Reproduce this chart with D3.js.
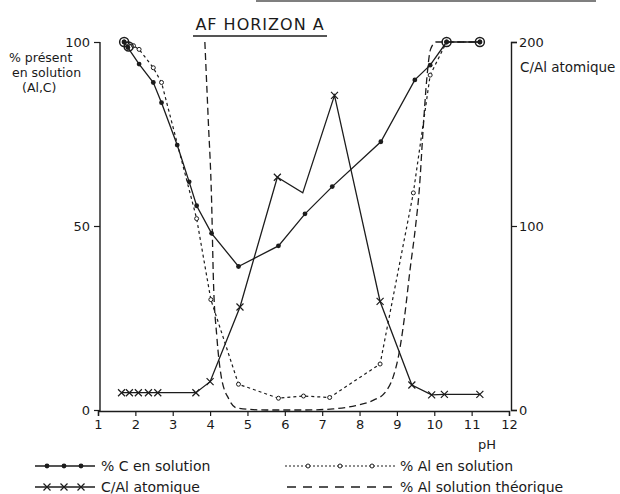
<!DOCTYPE html>
<html><head><meta charset="utf-8">
<script src="https://cdn.jsdelivr.net/npm/d3@7"></script>
<style>
body{margin:0;background:#fff;}
text{font-family:"DejaVu Sans",sans-serif;fill:#1a1a1a;}
</style></head>
<body>
<svg id="c" width="620" height="494"></svg>
<script>
// ---- data ----
const xTicks = [1,2,3,4,5,6,7,8,9,10,11,12];
const yLeftTicks = [0,50,100];
const yRightTicks = [0,100,200];

const pH_C = [1.7,1.8,2.1,2.48,2.7,3.12,3.44,3.64,4.04,4.76,5.83,6.54,7.27,8.57,9.48,9.89,10.33,11.22];
const pctC = [100,98.5,94,89,83.5,72,62,55.5,48,39,44.6,53.3,60.7,72.9,89.7,93.7,100,100];

const pH_Al = [1.7,1.8,1.95,2.1,2.48,2.7,3.64,4.02,4.76,5.83,6.5,7.2,8.55,9.44,9.89,10.33,11.22];
const pctAl = [100,99.5,99,98,93,89,52,30,7,3.2,3.8,3.4,12.5,59,91,100,100];

const pH_ratio = [1.63,1.84,2.08,2.35,2.6,3.62,4.0,4.8,5.8,6.48,7.33,8.55,9.4,9.93,10.27,11.22];
const ratioCAl = [9.4,9.4,9.4,9.4,9.4,9.4,15.4,56,126.5,118,171,59,13.6,8.2,8.5,8.5];
const ratioMarked = [1,1,1,1,1,1,1,1,1,0,1,1,1,1,1,1];

const pH_theo = [3.86,3.95,4.04,4.09,4.18,4.3,4.5,4.72,5.5,6.5,7.3,7.9,8.4,8.68,8.9,9.04,9.2,9.35,9.5,9.6,9.7,9.8,9.9,10.05,10.33,11.22];
const pctTheo = [100,79,57,35,20,9,3,0.5,0,0,0.3,1.2,2.8,4.7,9,14.5,25,38,50,60,76,90,98,100,100,100];

const bigCircles = [[1.7,100],[1.82,98.8],[10.33,100],[11.22,100]];

// ---- scales ----
const svg = d3.select("#c");
const x = d3.scaleLinear().domain([1,12]).range([98,509]);
const yL = d3.scaleLinear().domain([0,100]).range([410,42]);
const yR = d3.scaleLinear().domain([0,200]).range([410,42]);
const ink = "#1c1c1c";

// ---- axes ----
const gx = svg.append("g").attr("transform","translate(0,411)")
  .call(d3.axisBottom(x).tickValues(xTicks).tickSize(5).tickPadding(4).tickFormat(d3.format("d")));
const gl = svg.append("g").attr("transform","translate(100,0)")
  .call(d3.axisLeft(yL).tickValues(yLeftTicks).tickSize(6).tickPadding(4));
const gr = svg.append("g").attr("transform","translate(511,0)")
  .call(d3.axisRight(yR).tickValues(yRightTicks).tickSize(6).tickPadding(2));
[gx,gl,gr].forEach(g=>{
  g.select(".domain").attr("stroke",ink).attr("stroke-width",1.4);
  g.selectAll(".tick line").attr("stroke",ink).attr("stroke-width",1.2);
  g.selectAll(".tick text").attr("font-size",13).attr("fill",ink).attr("font-family","DejaVu Sans");
});
gl.select(".domain").attr("d","M100,42V411").attr("transform","translate(-100,0)");

// ---- lines ----
const line = (xs, ys, sy) => d3.line().x((d,i)=>x(xs[i])).y((d,i)=>sy(ys[i]));

svg.append("path").attr("d", d3.line().curve(d3.curveMonotoneX).x((d,i)=>x(pH_theo[i])).y((d,i)=>yL(pctTheo[i]))(pctTheo))
  .attr("fill","none").attr("stroke",ink).attr("stroke-width",1.3).attr("stroke-dasharray","7,4");

svg.append("path").attr("d", line(pH_Al,pctAl,yL)(pctAl))
  .attr("fill","none").attr("stroke",ink).attr("stroke-width",1.2).attr("stroke-dasharray","3,3");

svg.append("path").attr("d", line(pH_C,pctC,yL)(pctC))
  .attr("fill","none").attr("stroke",ink).attr("stroke-width",1.3);

svg.append("path").attr("d", line(pH_ratio,ratioCAl,yR)(ratioCAl))
  .attr("fill","none").attr("stroke",ink).attr("stroke-width",1.3);

// markers
svg.append("g").selectAll("circle").data(pctAl).join("circle")
  .attr("cx",(d,i)=>x(pH_Al[i])).attr("cy",d=>yL(d)).attr("r",2)
  .attr("fill","#fff").attr("stroke",ink).attr("stroke-width",1);
svg.append("g").selectAll("circle").data(pctC).join("circle")
  .attr("cx",(d,i)=>x(pH_C[i])).attr("cy",d=>yL(d)).attr("r",2.4).attr("fill",ink);
const markedIdx = ratioCAl.map((v,j)=>j).filter(j=>ratioMarked[j]);
svg.append("g").selectAll("path").data(markedIdx).join("path")
  .attr("d",j=>{
    const cx = x(pH_ratio[j]), cy = yR(ratioCAl[j]), s=3.5;
    return `M${cx-s},${cy-s}L${cx+s},${cy+s}M${cx-s},${cy+s}L${cx+s},${cy-s}`;
  }).attr("stroke",ink).attr("stroke-width",1.2);
svg.append("g").selectAll("circle").data(bigCircles).join("circle")
  .attr("cx",d=>x(d[0])).attr("cy",d=>yL(d[1])).attr("r",4.5)
  .attr("fill","none").attr("stroke",ink).attr("stroke-width",1.5);

// ---- titles / labels ----
svg.append("line").attr("x1",256).attr("x2",596).attr("y1",1).attr("y2",1).attr("stroke","#555").attr("stroke-width",1.5);
svg.append("text").attr("x",260).attr("y",30).attr("text-anchor","middle").attr("font-size",16).attr("letter-spacing",1).text("AF HORIZON A");
svg.append("line").attr("x1",193).attr("x2",327).attr("y1",36).attr("y2",36).attr("stroke",ink).attr("stroke-width",1.5);

const lt = svg.append("g").attr("font-size",12.5);
lt.append("text").attr("x",9).attr("y",62).text("% présent");
lt.append("text").attr("x",12).attr("y",77).text("en solution");
lt.append("text").attr("x",22).attr("y",92).text("(Al,C)");
lt.append("text").attr("x",520).attr("y",72).attr("font-size",13.5).text("C/Al atomique");
lt.append("text").attr("x",478).attr("y",449).attr("font-size",13).text("pH");

// ---- legend ----
const lg = svg.append("g");
const L1 = 466, L2 = 487;
lg.append("line").attr("x1",35).attr("x2",95).attr("y1",L1).attr("y2",L1).attr("stroke",ink).attr("stroke-width",1.3);
[47,64,81].forEach(px=>lg.append("circle").attr("cx",px).attr("cy",L1).attr("r",2.4).attr("fill",ink));
lg.append("line").attr("x1",35).attr("x2",95).attr("y1",L2).attr("y2",L2).attr("stroke",ink).attr("stroke-width",1.3);
[47,64,81].forEach(px=>lg.append("path").attr("d",`M${px-3.5},${L2-3.5}L${px+3.5},${L2+3.5}M${px-3.5},${L2+3.5}L${px+3.5},${L2-3.5}`).attr("stroke",ink).attr("stroke-width",1.2));
lg.append("line").attr("x1",285).attr("x2",395).attr("y1",L1).attr("y2",L1).attr("stroke",ink).attr("stroke-width",1.1).attr("stroke-dasharray","2,2");
[308,340,372].forEach(px=>lg.append("circle").attr("cx",px).attr("cy",L1).attr("r",2).attr("fill","#fff").attr("stroke",ink));
lg.append("line").attr("x1",287).attr("x2",397).attr("y1",L2).attr("y2",L2).attr("stroke",ink).attr("stroke-width",1.3).attr("stroke-dasharray","9,7");
lg.append("text").attr("x",101).attr("y",L1+5).attr("font-size",14).text("% C  en solution");
lg.append("text").attr("x",101).attr("y",L2+5).attr("font-size",14).text("C/Al atomique");
lg.append("text").attr("x",400).attr("y",L1+5).attr("font-size",14).text("% Al en solution");
lg.append("text").attr("x",400).attr("y",L2+5).attr("font-size",14).text("% Al solution théorique");
</script>
</body></html>
